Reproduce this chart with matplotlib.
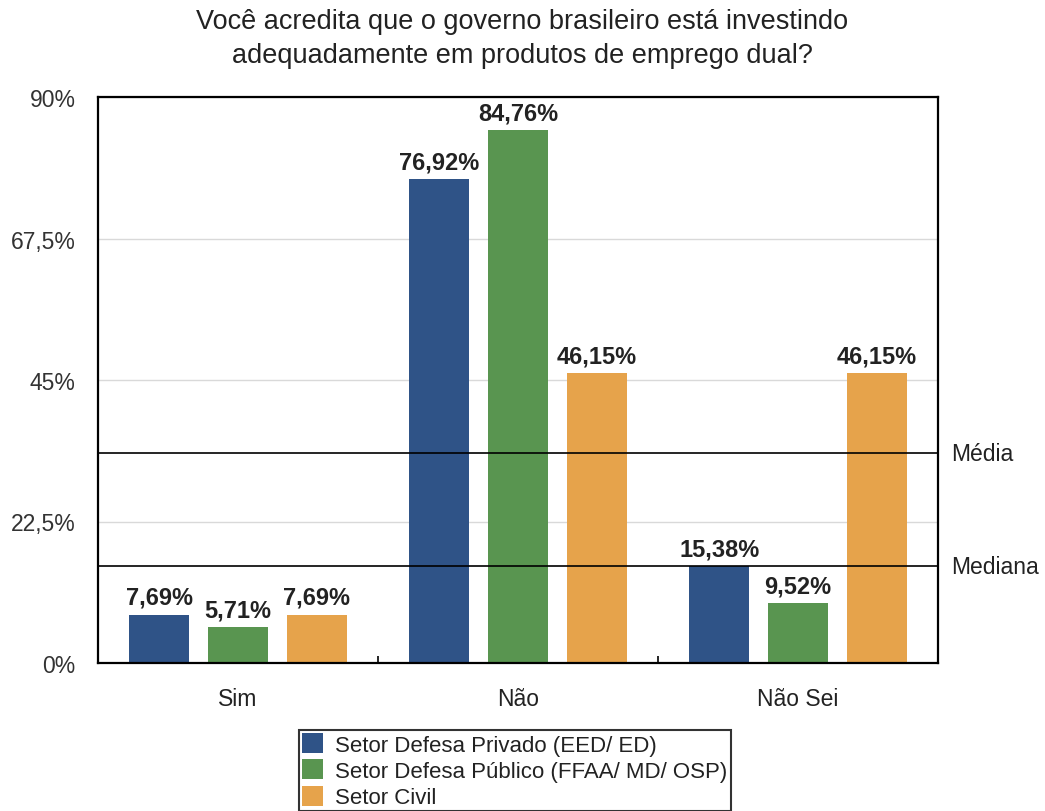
import matplotlib
matplotlib.use("Agg")
import matplotlib.pyplot as plt
import numpy as np

plt.rcParams['font.family'] = ['Liberation Sans', 'DejaVu Sans']

categories = ["Sim", "Não", "Não Sei"]
series_names = [
    "Setor Defesa Privado (EED/ ED)",
    "Setor Defesa Público (FFAA/ MD/ OSP)",
    "Setor Civil",
]
privado = [7.69, 76.92, 15.38]
publico = [5.71, 84.76, 9.52]
civil = [7.69, 46.15, 46.15]
yticks = [0, 22.5, 45, 67.5, 90]
ytick_labels = ["0%", "22,5%", "45%", "67,5%", "90%"]
title = ("Você acredita que o governo brasileiro está investindo\n"
         "adequadamente em produtos de emprego dual?")

colors = ["#2f5387", "#599550", "#e6a34b"]
series = [privado, publico, civil]

all_values = np.array(privado + publico + civil)
media = all_values.mean()
mediana = np.median(all_values)

fig = plt.figure(figsize=(10.45, 8.12), dpi=100)
ax = fig.add_axes([98 / 1045, 1 - 664 / 812, 840 / 1045, 566 / 812])

x = np.arange(len(categories))
width = 0.215
offset = 0.281
for i, (vals, col, name) in enumerate(zip(series, colors, series_names)):
    pos = x + (i - 1) * offset
    ax.bar(pos, vals, width, color=col, label=name, zorder=2)
    for xp, v in zip(pos, vals):
        ax.text(xp, v + 0.9, f"{v:.2f}%".replace(".", ","), ha="center",
                va="bottom", fontsize=17, fontweight="bold", color="#222222",
                zorder=4)

ax.set_xlim(-0.5, 2.5)
ax.set_ylim(0, 90)

ax.axhline(media, color="black", lw=1.2, zorder=3)
ax.axhline(mediana, color="black", lw=1.2, zorder=3)
ax.text(1.016, media, "Média", transform=ax.get_yaxis_transform(),
        va="center", ha="left", fontsize=16.5, color="#222222")
ax.text(1.016, mediana, "Mediana", transform=ax.get_yaxis_transform(),
        va="center", ha="left", fontsize=16.5, color="#222222")

ax.set_yticks(yticks)
ax.set_yticklabels(ytick_labels, fontsize=16.5, color="#333333")
ax.tick_params(axis="y", length=0, pad=16)
ax.yaxis.grid(True, color="#d9d9d9", lw=1, zorder=0)

ax.set_xticks(x)
ax.set_xticklabels(categories, fontsize=16.5, color="#222222")
ax.tick_params(axis="x", length=0, pad=17)
ax.set_xticks([0.5, 1.5], minor=True)
ax.tick_params(axis="x", which="minor", direction="in", length=5,
               width=1.2, color="black")

for sp in ax.spines.values():
    sp.set_color("black")
    sp.set_linewidth(1.6)
ax.set_axisbelow(True)

fig.text(0.5, 1 - 39 / 812, title, ha="center", va="center",
         fontsize=19.5, color="#222222", linespacing=1.42)

leg = fig.legend(loc="upper left", bbox_to_anchor=(299 / 1045, 1 - 731 / 812),
                 fontsize=16, frameon=True, fancybox=False,
                 edgecolor="black", handlelength=0.95, handleheight=1.0,
                 handletextpad=0.55, labelspacing=0.17, borderpad=0.14,
                 borderaxespad=0)
leg.get_frame().set_linewidth(1.5)
for t in leg.get_texts():
    t.set_color("#222222")

fig.savefig("out.png", dpi=100)
